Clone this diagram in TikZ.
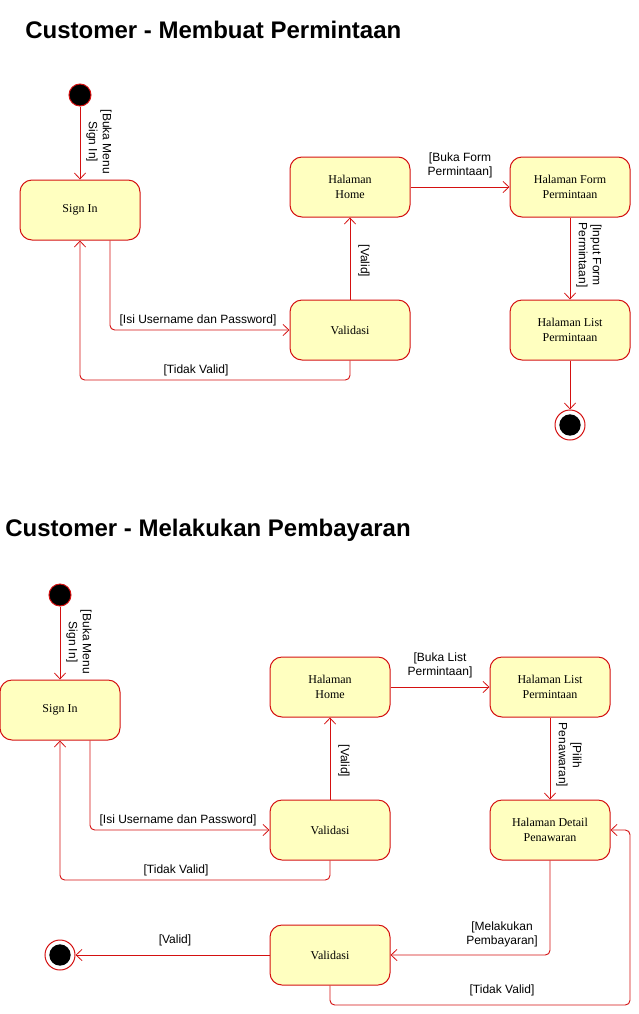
\documentclass[tikz,border=0pt]{standalone}
\usepackage{fontspec}
\setmainfont{Liberation Serif}
\setsansfont{Liberation Sans}
\usetikzlibrary{arrows.meta,calc}
\definecolor{umlred}{HTML}{D41111}
\definecolor{umlfill}{HTML}{FFFFC0}
\tikzset{
  statebox/.style={draw=umlred, fill=umlfill, line width=0.75pt, rounded corners=9pt,
    minimum width=90pt, minimum height=45pt, inner sep=1pt, align=center,
    font=\rmfamily\fontsize{9}{11.25}\selectfont},
  startdot/.style={circle, draw=umlred, fill=black, line width=0.75pt, minimum size=16.5pt, inner sep=0pt},
  endring/.style={circle, draw=umlred, fill=white, line width=0.75pt, minimum size=22.5pt, inner sep=0pt},
  conn/.style={draw=umlred, line width=0.7pt, rounded corners=3.5pt,
    -{Straight Barb[length=4.5pt,width=8.5pt,line width=0.6pt]}},
  lbl/.style={font=\sffamily\fontsize{9}{10.5}\selectfont, align=center, inner sep=0pt},
  rlbl/.style={lbl, rotate=-90},
  ttl/.style={font=\sffamily\bfseries\fontsize{18}{22}\selectfont, anchor=west, inner sep=0pt}
}
\begin{document}
\begin{tikzpicture}[x=0.75pt,y=-0.75pt]
\useasboundingbox (0,0) rectangle (639,1014);

% ---------- Diagram 1 ----------
\node[ttl] (t1) at (25,30) {Customer - Membuat Permintaan};
\node[startdot] (st1) at (80,95) {};
\node[statebox] (s1) at (80,210) {Sign In};
\node[statebox] (h1) at (350,187) {Halaman\\Home};
\node[statebox] (f1) at (570,187) {Halaman Form\\Permintaan};
\node[statebox] (v1) at (350,330) {Validasi};
\node[statebox] (l1) at (570,330) {Halaman List\\Permintaan};
\node[endring] (e1) at (570,425) {};
\fill[black] (e1.center) circle (8pt);

\draw[conn] (st1) -- (s1);
\draw[conn] ([xshift=22.5pt]s1.south) |- (v1.west);
\coordinate (c1) at (80,380);
\draw[conn] (v1.south) |- (c1) -- (s1.south);
\draw[conn] (v1) -- (h1);
\draw[conn] (h1) -- (f1);
\draw[conn] (f1) -- (l1);
\draw[conn] (l1) -- (e1);

\node[rlbl] (a1) at (99,142) {[Buka Menu\\Sign In]};
\node[lbl] (a2) at (198,320) {[Isi Username dan Password]};
\node[lbl] (a3) at (196,370) {[Tidak Valid]};
\node[rlbl] (a4) at (364,261) {[Valid]};
\node[lbl] (a5) at (460,165) {[Buka Form\\Permintaan]};
\node[rlbl] (a6) at (589,255) {[Input Form\\Permintaan]};

% ---------- Diagram 2 ----------
\node[ttl] (t2) at (5,530) {Customer - Melakukan Pembayaran};
\node[startdot] (st2) at (60,595) {};
\node[statebox] (s2) at (60,710) {Sign In};
\node[statebox] (h2) at (330,687) {Halaman\\Home};
\node[statebox] (l2) at (550,687) {Halaman List\\Permintaan};
\node[statebox] (v2) at (330,830) {Validasi};
\node[statebox] (d2) at (550,830) {Halaman Detail\\Penawaran};
\node[statebox] (v3) at (330,955) {Validasi};
\node[endring] (e2) at (60,955) {};
\fill[black] (e2.center) circle (8pt);

\draw[conn] (st2) -- (s2);
\draw[conn] ([xshift=22.5pt]s2.south) |- (v2.west);
\coordinate (c2) at (60,880);
\draw[conn] (v2.south) |- (c2) -- (s2.south);
\draw[conn] (v2) -- (h2);
\draw[conn] (h2) -- (l2);
\draw[conn] (l2) -- (d2);
\draw[conn] (d2.south) |- (v3.east);
\draw[conn] (v3.west) -- (e2);
\coordinate (c3) at (630,1005);
\draw[conn] (v3.south) |- (c3) |- (d2.east);

\node[rlbl] (b1) at (79,642) {[Buka Menu\\Sign In]};
\node[lbl] (b2) at (178,820) {[Isi Username dan Password]};
\node[lbl] (b3) at (176,870) {[Tidak Valid]};
\node[rlbl] (b4) at (344,761) {[Valid]};
\node[lbl] (b5) at (440,665) {[Buka List\\Permintaan]};
\node[rlbl] (b6) at (569,755) {[Pilih\\Penawaran]};
\node[lbl] (b7) at (502,934) {[Melakukan\\Pembayaran]};
\node[lbl] (b8) at (175,940) {[Valid]};
\node[lbl] (b9) at (502,990) {[Tidak Valid]};
\end{tikzpicture}
\end{document}
